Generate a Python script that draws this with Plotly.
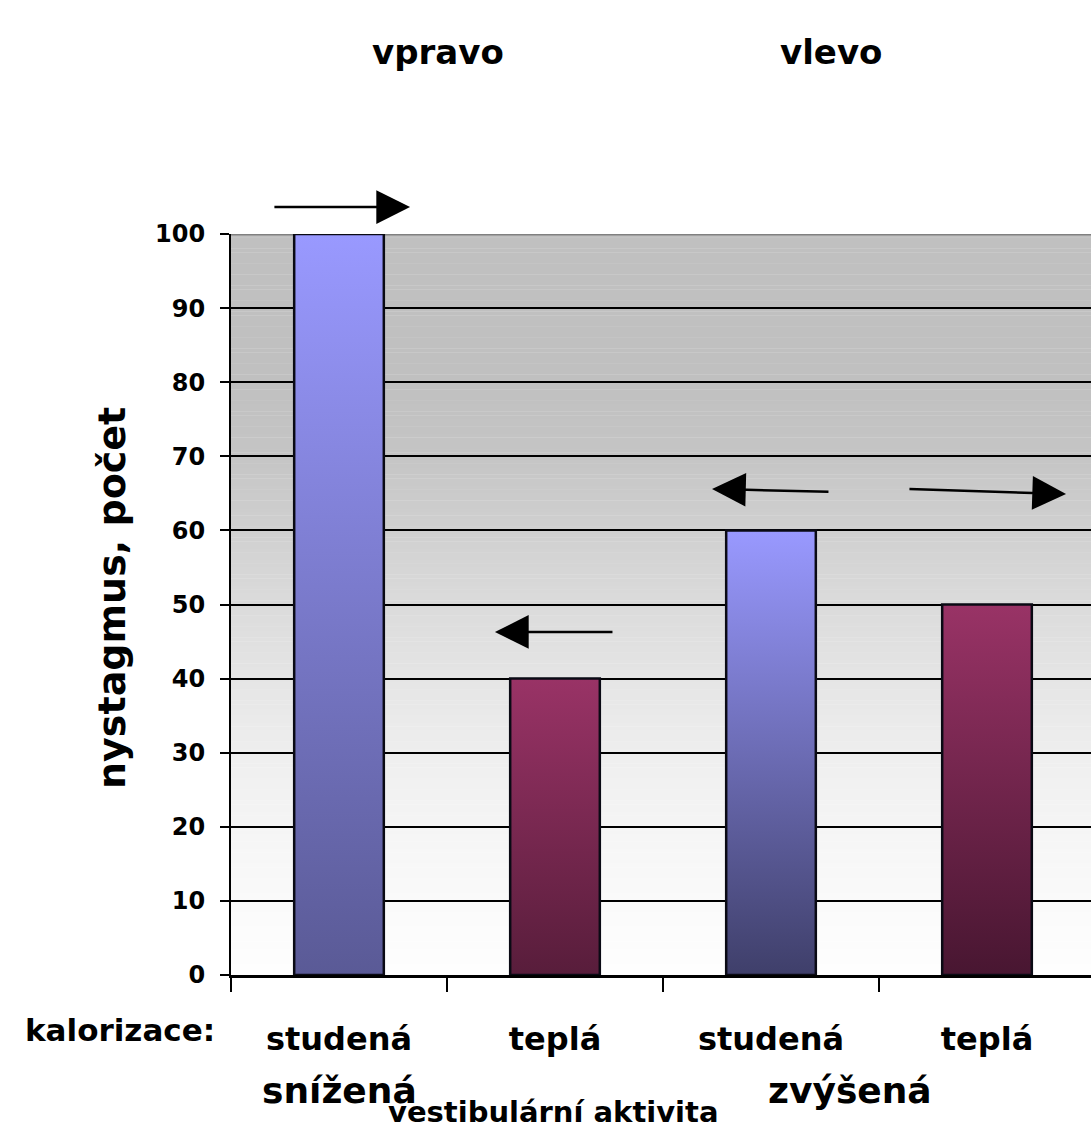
import plotly.graph_objects as go

# --- data -------------------------------------------------------------
categories = ["studená", "teplá", "studená", "teplá"]        # kalorizace
nystagmus = [100, 40, 60, 50]                               # počet
groups = ["snížená", "zvýšená"]                              # vestibulární aktivita
directions = ["vpravo", "vlevo"]
y_ticks = [0, 10, 20, 30, 40, 50, 60, 70, 80, 90, 100]

# bar fills: (bottom colour, top colour)
bar_gradients = [
    ("#5a5a96", "#9999ff"),
    ("#581d3b", "#993366"),
    ("#3f3f6a", "#9999ff"),
    ("#481631", "#993366"),
]

FONT = "DejaVu Sans, Verdana, sans-serif"
BAR_W = 0.415
X_MAX = -0.5 + 860 / 216


def bold(size):
    return dict(family=FONT, size=size, color="black", weight="bold")


fig = go.Figure()

# gradient-filled bars with a dark outline
for i, (v, (c0, c1)) in enumerate(zip(nystagmus, bar_gradients)):
    x0, x1 = i - BAR_W / 2, i + BAR_W / 2
    fig.add_trace(go.Scatter(
        x=[x0, x1, x1, x0, x0], y=[0, 0, v, v, 0],
        mode="lines", fill="toself",
        fillgradient=dict(type="vertical", start=0, stop=v,
                          colorscale=[[0, c0], [1, c1]]),
        line=dict(width=2.5, color="#0a0a14"),
        name=categories[i], hoveron="fills", text=f"{v}",
        hoverinfo="text", showlegend=False,
    ))

# category labels live on an overlaying axis (ticks are at the boundaries)
fig.add_trace(go.Scatter(x=[0, 3], y=[0, 0], xaxis="x2", mode="markers",
                         marker=dict(opacity=0), hoverinfo="skip",
                         showlegend=False))

# plot-area background: grey at the top fading to white at the bottom
bg_stops = [(0, 254), (10, 250), (20, 245), (30, 238), (40, 229),
            (50, 219), (60, 208), (70, 197), (80, 192), (100, 192)]
shapes = []
step = 0.5
n = int(100 / step)
for k in range(n):
    lo = k * step
    mid = lo + step / 2
    for (a, ga), (b, gb) in zip(bg_stops[:-1], bg_stops[1:]):
        if a <= mid <= b:
            g = round(ga + (gb - ga) * (mid - a) / (b - a))
            break
    shapes.append(dict(type="rect", xref="paper", yref="y",
                       x0=0, x1=1, y0=lo, y1=lo + step + 0.05,
                       fillcolor=f"rgb({g},{g},{g})", line=dict(width=0),
                       layer="below"))
# grey top border of the plot area
shapes.append(dict(type="line", xref="paper", yref="y", x0=0, x1=1,
                   y0=100, y1=100, line=dict(color="#808080", width=3),
                   layer="between"))

ann = []
# direction headers
for x, txt in zip([0.2407, 0.6977], directions):
    ann.append(dict(x=x, y=1.2456, xref="paper", yref="paper", text=txt,
                    xanchor="center", yanchor="middle",
                    showarrow=False, font=bold(34)))

# nystagmus direction arrows (tip at x/y, tail at ax/ay)
arrow_style = dict(text="", showarrow=True, arrowhead=2, arrowsize=2.7,
                   arrowwidth=2.5, arrowcolor="black")
ann.append(dict(x=0.329, y=1.0364, xref="x", yref="paper",
                ax=-0.306, ay=0, axref="x", ayref="pixel", **arrow_style))
arrows = [(0.722, 46.3, 1.273, 46.3),
          (1.727, 65.6, 2.273, 65.2),
          (3.366, 64.9, 2.634, 65.6)]
for hx, hy, tx, ty in arrows:
    ann.append(dict(x=hx, y=hy, ax=tx, ay=ty, xref="x", yref="y",
                    axref="x", ayref="y", **arrow_style))

ann.append(dict(x=(120 - 231) / 860, y=-0.0742, xref="paper", yref="paper",
                xanchor="center", yanchor="middle",
                text="kalorizace:", showarrow=False, font=bold(31)))
for x, txt in zip([0, 2.366], groups):
    ann.append(dict(x=x, y=-0.1552, xref="x", yref="paper", text=txt,
                    xanchor="center", yanchor="middle",
                    showarrow=False, font=bold(36)))
ann.append(dict(x=(553 - 231) / 860, y=-0.185, xref="paper", yref="paper",
                xanchor="center", yanchor="middle",
                text="vestibulární aktivita", showarrow=False, font=bold(29)))
ann.append(dict(x=-0.1384, y=0.5088, xref="paper", yref="paper",
                xanchor="center", yanchor="middle",
                text="nystagmus, počet", textangle=-90, showarrow=False,
                font=bold(38)))

fig.update_layout(
    width=1091, height=1141,
    margin=dict(l=231, r=0, t=234, b=166),
    paper_bgcolor="white", plot_bgcolor="rgba(0,0,0,0)",
    shapes=shapes, annotations=ann,
    xaxis=dict(
        range=[-0.5, X_MAX], tickmode="array",
        tickvals=[-0.5, 0.5, 1.5, 2.5, 3.5], ticktext=[""] * 5,
        ticks="outside", ticklen=14, tickwidth=2, tickcolor="black",
        showgrid=False, zeroline=False,
        showline=True, linecolor="black", linewidth=3,
    ),
    xaxis2=dict(
        overlaying="x", side="bottom", anchor="y",
        range=[-0.5, X_MAX], tickmode="array",
        tickvals=list(range(len(categories))), ticktext=categories,
        ticks="", showgrid=False, zeroline=False, showline=False,
        tickfont=bold(32), ticklabelstandoff=42,
    ),
    yaxis=dict(
        range=[0, 100], tickmode="array", tickvals=y_ticks,
        ticks="outside", ticklen=9, tickwidth=2, tickcolor="black",
        showline=True, linecolor="black", linewidth=2,
        showgrid=True, gridcolor="black", gridwidth=2, zeroline=False,
        tickfont=bold(24), ticklabelstandoff=10,
    ),
)

fig.write_html("out.html")
